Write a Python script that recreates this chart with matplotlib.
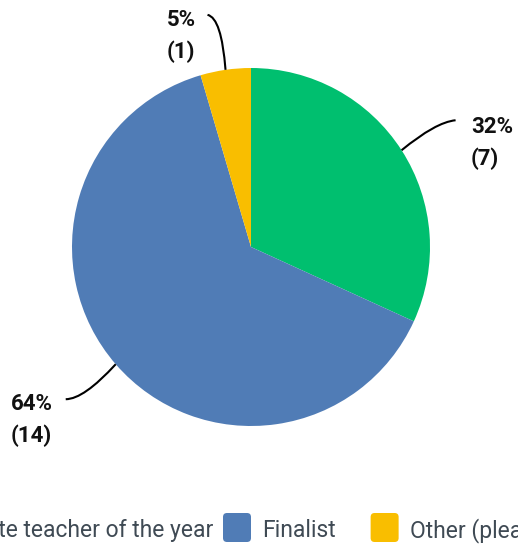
import numpy as np
import matplotlib.pyplot as plt
from matplotlib.path import Path
from matplotlib.patches import PathPatch, FancyBboxPatch

# data
categories = ['State teacher of the year', 'Finalist', 'Other (please specify)']
counts = [7, 14, 1]
colors = ['#00BF6F', '#507CB6', '#F9BE00']

W, H = 518, 546
fig = plt.figure(figsize=(W / 100, H / 100), dpi=100)
ax = fig.add_axes([0, 0, 1, 1])

cx, cy, r = 251, 299, 179
wedges, _ = ax.pie(counts, colors=colors, startangle=90, counterclock=False,
                   center=(cx, cy), radius=r, frame=True,
                   wedgeprops=dict(linewidth=0))
ax.set_xlim(0, W)
ax.set_ylim(0, H)
ax.set_aspect('auto')
ax.axis('off')

total = sum(counts)
# label layout per slice: line end (px offset from wedge edge), control, text x, baseline
layout = [
    dict(end=(54, 30), ctrl=(34, 28), tx=471, ty=413),
    dict(end=(-50, -35), ctrl=(-32, -35), tx=11, ty=136),
    dict(end=(-18, 55), ctrl=(-4, 52), tx=167, ty=520),
]

for w, c, lay in zip(wedges, counts, layout):
    ang = np.deg2rad((w.theta1 + w.theta2) / 2)
    ex, ey = cx + r * np.cos(ang), cy + r * np.sin(ang)
    p0 = (ex, ey)
    p1 = (ex + lay['ctrl'][0], ey + lay['ctrl'][1])
    p2 = (ex + lay['end'][0], ey + lay['end'][1])
    path = Path([p0, p1, p2], [Path.MOVETO, Path.CURVE3, Path.CURVE3])
    ax.add_patch(PathPatch(path, fill=False, edgecolor='black', lw=1.5))
    pct = round(100 * c / total)
    ax.text(lay['tx'], lay['ty'], f'{pct}%', fontsize=16, fontweight='bold',
            family='Roboto', ha='left', va='baseline', color='#111111')
    ax.text(lay['tx'], lay['ty'] - 32, f'({c})', fontsize=16, fontweight='bold',
            family='Roboto', ha='left', va='baseline', color='#111111')

# legend drawn by hand so it can run past the figure edges
fig.canvas.draw()
renderer = fig.canvas.get_renderer()
box_w, box_h = 28, 29
box_y = H - 542
base_y = H - 537
txt_kw = dict(fontsize=16.5, family='Roboto', color='#3f4a54', va='baseline')


def add_box(x0, color):
    ax.add_patch(FancyBboxPatch((x0, box_y), box_w, box_h,
                                boxstyle='round,pad=0,rounding_size=4',
                                facecolor=color, edgecolor='none'))


def text_width(t):
    return t.get_window_extent(renderer).width


x = 223
# first entry: text ends just before second box
t0 = ax.text(x - 10, base_y, categories[0], ha='right', **txt_kw)
w0 = text_width(t0)
add_box(x - 10 - w0 - 11 - box_w, colors[0])
for cat, col in zip(categories[1:], colors[1:]):
    add_box(x, col)
    t = ax.text(x + box_w + 11, base_y, cat, ha='left', **txt_kw)
    x = x + box_w + 11 + text_width(t) + 35

fig.savefig('out.png', dpi=100)
